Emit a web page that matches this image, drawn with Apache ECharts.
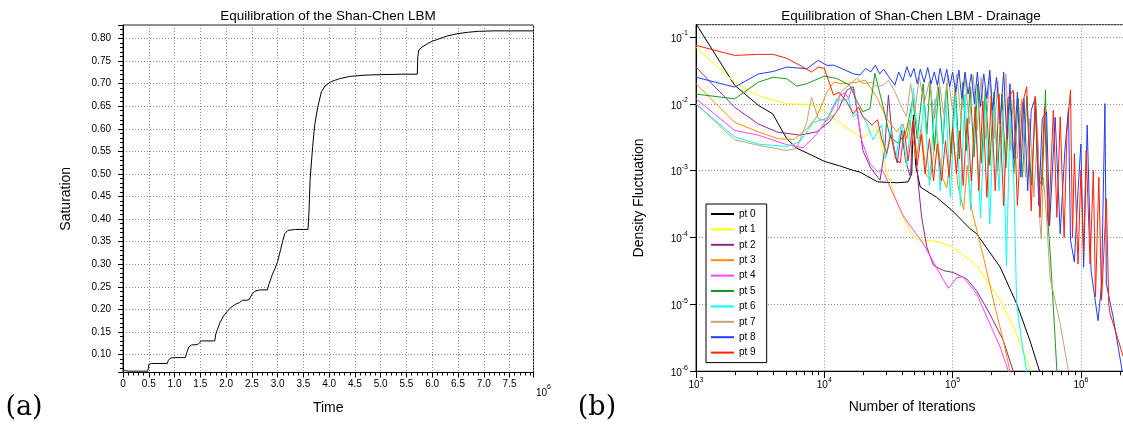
<!DOCTYPE html>
<html>
<head>
<meta charset="utf-8">
<script src="https://cdn.jsdelivr.net/npm/echarts@6/dist/echarts.min.js"></script>
<style>
html,body{margin:0;padding:0;background:#fff;}
#chart{width:1123px;height:428px;}
</style>
</head>
<body>
<div id="chart"></div>
<script>
// ---- (a) saturation against time (time in units of 10^6) ----
const saturationCurve = [
  [0,0.067],[0.05,0.064],[0.1,0.063],[0.3,0.063],[0.48,0.063],[0.49,0.068],[0.5,0.078],[0.55,0.080],
  [0.86,0.080],[0.88,0.087],[0.92,0.092],[1.0,0.093],[1.21,0.093],[1.24,0.105],[1.28,0.117],[1.33,0.121],
  [1.45,0.122],[1.48,0.124],[1.52,0.130],[1.78,0.130],[1.80,0.145],[1.83,0.155],[1.88,0.170],[1.95,0.185],
  [2.02,0.195],[2.10,0.205],[2.18,0.211],[2.26,0.215],[2.32,0.220],[2.40,0.220],[2.45,0.222],[2.50,0.233],
  [2.56,0.240],[2.65,0.243],[2.80,0.243],[2.83,0.255],[2.87,0.268],[2.90,0.278],[2.95,0.290],[3.00,0.306],
  [3.06,0.333],[3.10,0.352],[3.14,0.368],[3.20,0.375],[3.35,0.377],[3.59,0.377],[3.61,0.420],[3.63,0.487],
  [3.68,0.561],[3.72,0.609],[3.78,0.649],[3.85,0.682],[3.92,0.695],[4.03,0.704],[4.1,0.707],[4.2,0.711],
  [4.4,0.716],[4.7,0.719],[5.0,0.720],[5.4,0.721],[5.71,0.721],[5.72,0.760],[5.74,0.775],[5.80,0.781],
  [5.90,0.788],[6.0,0.794],[6.15,0.800],[6.3,0.806],[6.5,0.811],[6.7,0.814],[6.9,0.816],[7.2,0.817],[7.965,0.817]
];
const timeRange = [0, 7.965];
const saturationRange = [0.06, 0.83];

// ---- (b) density fluctuation against iterations, one array per probe point ----
const pt0 = [[1e3,0.158],[2e3,0.019],[3.06e3,0.0095],[3.96e3,0.0071],[5.1e3,0.003],[6.1e3,0.00217],[8e3,0.0017],
  [1e4,0.00138],[1.32e4,0.00118],[1.68e4,0.00101],[1.9e4,0.00095],[2.6e4,0.00068],[3.7e4,0.00066],[4.5e4,0.00068],
  [4.8e4,0.0009],[4.95e4,0.0068],[5.15e4,0.0012],[5.6e4,0.00057],[7.5e4,0.0004],[1.0e5,0.00025],[1.37e5,0.000135],
  [1.54e5,0.000114],[2.35e5,3.6e-5],[3.16e5,1.02e-5],[4.0e5,2.9e-6],[4.85e5,9e-7]];
const pt1 = [[1e3,0.07],[2e3,0.021],[3e3,0.0134],[5.1e3,0.0100],[7e3,0.0099],[8.7e3,0.0092],[1.0e4,0.008],[1.32e4,0.0052],
  [1.6e4,0.004],[1.95e4,0.0031],[2.27e4,0.0036],[2.55e4,0.0045],[2.7e4,0.0035],[2.97e4,0.00113],[3.35e4,0.0006],
  [3.9e4,0.00025],[4.66e4,0.000128],[5.25e4,9.3e-5],[7.1e4,8.9e-5],[9.5e4,7.6e-5],[1.37e5,4.6e-5],[1.54e5,3.8e-5],
  [2.35e5,1.15e-5],[3.16e5,3.6e-6],[4.06e5,1e-6],[4.3e5,7e-7]];
const pt2 = [[1e3,0.0355],[2e3,0.0089],[3.06e3,0.005],[4.27e3,0.0038],[6.45e3,0.0034],[8.7e3,0.0038],[1.1e4,0.0054],
  [1.3e4,0.0085],[1.5e4,0.016],[1.68e4,0.018],[1.8e4,0.008],[2.0e4,0.002],[2.3e4,0.0011],[2.72e4,0.00072],[2.95e4,0.002],
  [3.16e4,0.0135],[3.4e4,0.003],[3.7e4,0.0013],[4.0e4,0.004],[4.3e4,0.0014],[4.7e4,0.0008],[4.9e4,0.0055],[5.15e4,0.002],
  [5.4e4,0.00064],[5.74e4,0.0002],[6.3e4,7.2e-5],[7.1e4,3.8e-5],[8.5e4,3.2e-5],[1.01e5,3.0e-5],[1.29e5,2.4e-5],
  [1.54e5,1.6e-5],[1.95e5,7.2e-6],[2.48e5,2.9e-6],[2.97e5,1e-6],[3.1e5,7e-7]];
const pt3 = [[1e3,0.02],[2e3,0.0053],[3.06e3,0.0038],[4.4e3,0.003],[5.8e3,0.00295],[7.3e3,0.0042],[8.7e3,0.0063],
  [1.05e4,0.015],[1.18e4,0.021],[1.4e4,0.02],[1.78e4,0.021],[2.1e4,0.0226],[2.6e4,0.012],[3.07e4,0.006],[3.67e4,0.0038],
  [4.1e4,0.005],[4.4e4,0.003],[4.66e4,0.0057],[5.2e4,0.0015],[5.7e4,0.0045],[6.2e4,0.0009],[6.7e4,0.00072],[7.5e4,0.004],
  [8.3e4,0.0008],[9e4,0.00055],[1.01e5,0.0032],[1.1e5,0.0006],[1.22e5,0.00026],[1.3e5,0.0012],[1.41e5,0.00026],
  [1.74e5,5.1e-5],[2.08e5,1.15e-5],[2.48e5,2.9e-6],[2.8e5,1e-6],[2.95e5,7e-7]];
const pt4 = [[1e3,0.0119],[2e3,0.004],[3.06e3,0.0034],[5.1e3,0.00245],[6.85e3,0.0022],[8.7e3,0.0035],[1.1e4,0.0067],
  [1.32e4,0.0134],[1.45e4,0.0145],[1.55e4,0.012],[1.62e4,0.016],[1.7e4,0.017],[1.8e4,0.008],[1.95e4,0.0029],
  [2.27e4,0.00128],[2.63e4,0.00095],[2.8e4,0.00105],[2.95e4,0.0009],[3.25e4,0.00057],[4.13e4,0.00021],[5.9e4,8.1e-5],
  [8.5e4,2.3e-5],[9.3e4,1.74e-5],[1.08e5,2.5e-5],[1.2e5,2.6e-5],[1.54e5,1.45e-5],[1.95e5,5.1e-6],[2.35e5,2.3e-6],
  [2.72e5,1e-6],[2.85e5,7e-7]];
const pt5 = [[1e3,0.014],[2e3,0.0119],[3.06e3,0.0211],[4e3,0.025],[5.1e3,0.0237],[6.1e3,0.0184],[7.3e3,0.02],[1e4,0.026],
  [1.25e4,0.024],[1.58e4,0.019],[1.78e4,0.0113],[2e4,0.0076],[2.27e4,0.0085],[2.48e4,0.0285],[2.88e4,0.009],[3.25e4,0.0032],
  [3.79e4,0.00255],[4.37e4,0.004],[4.9e4,0.012],[5.3e4,0.003],[5.9e4,0.02],[6.3e4,0.0035],[6.7e4,0.0226],[7.2e4,0.002],
  [7.8e4,0.018],[8.4e4,0.0025],[9e4,0.02],[9.7e4,0.0018],[1.05e5,0.019],[1.13e5,0.0015],[1.2e5,0.021],[1.28e5,0.002],
  [1.37e5,0.018],[1.47e5,0.0016],[1.57e5,0.02],[1.68e5,0.0013],[1.8e5,0.017],[1.95e5,0.0012],[2.1e5,0.015],[2.25e5,0.001],
  [2.42e5,0.014],[2.6e5,0.0011],[2.8e5,0.013],[3e5,0.0009],[3.25e5,0.012],[3.5e5,0.0008],[3.8e5,0.013],[4.1e5,0.0006],
  [4.45e5,0.011],[4.75e5,0.0007],[5.0e5,0.0006],[5.3e5,0.016],[5.5e5,0.0002],[5.75e5,6.4e-5],[6.1e5,9.1e-6],[6.5e5,1e-6],[6.6e5,7e-7]];
const pt6 = [[1e3,0.01],[2e3,0.0032],[3.06e3,0.0025],[5.1e3,0.0023],[6.45e3,0.0027],[8.2e3,0.0053],[1.05e4,0.006],
  [1.25e4,0.0119],[1.4e4,0.011],[1.55e4,0.012],[1.68e4,0.0064],[1.9e4,0.0076],[2.1e4,0.0055],[2.4e4,0.0029],[2.63e4,0.004],
  [2.8e4,0.0048],[3.0e4,0.0015],[3.3e4,0.004],[3.6e4,0.0015],[4.0e4,0.005],[4.4e4,0.0012],[4.95e4,0.017],[5.5e4,0.002],
  [6e4,0.011],[6.6e4,0.0006],[7.3e4,0.012],[8e4,0.0005],[8.8e4,0.015],[9.6e4,0.0004],[1.05e5,0.013],[1.15e5,0.0003],
  [1.25e5,0.014],[1.38e5,0.00026],[1.5e5,0.012],[1.65e5,0.0002],[1.8e5,0.011],[1.95e5,0.00016],[2.1e5,0.01],[2.3e5,0.0005],
  [2.45e5,0.008],[2.63e5,3.8e-5],[2.8e5,0.006],[3e5,0.0007],[3.16e5,1.02e-5],[3.45e5,2.9e-6],[3.78e5,1e-6],[3.9e5,7e-7]];
const pt7 = [[1e3,0.01],[2e3,0.0029],[3.06e3,0.0024],[5.1e3,0.002],[6.1e3,0.00217],[7.3e3,0.0053],[7.95e3,0.0126],
  [8.97e3,0.006],[1.05e4,0.0056],[1.25e4,0.0075],[1.32e4,0.0143],[1.5e4,0.018],[1.78e4,0.024],[2e4,0.02],[2.3e4,0.021],
  [2.6e4,0.018],[2.88e4,0.019],[3.16e4,0.0226],[3.5e4,0.016],[4e4,0.009],[4.37e4,0.0064],[4.7e4,0.02],[5.1e4,0.008],
  [5.5e4,0.025],[6e4,0.01],[6.6e4,0.022],[7.2e4,0.006],[7.8e4,0.025],[8.5e4,0.007],[9.2e4,0.027],[1e5,0.008],[1.08e5,0.028],
  [1.16e5,0.006],[1.25e5,0.025],[1.35e5,0.005],[1.45e5,0.027],[1.55e5,0.004],[1.67e5,0.025],[1.8e5,0.003],[1.95e5,0.026],
  [2.1e5,0.003],[2.25e5,0.022],[2.4e5,0.0025],[2.6e5,0.028],[2.8e5,0.002],[3e5,0.015],[3.2e5,0.0015],[3.45e5,0.012],
  [3.7e5,0.0008],[4e5,0.006],[4.3e5,0.0004],[4.6e5,0.004],[4.8e5,0.00016],[4.9e5,9.5e-5],[5.1e5,0.0008],[5.4e5,0.0002],
  [5.75e5,2.5e-5],[6.9e5,5.1e-6],[8e5,1e-6],[8.3e5,7e-7]];
const pt8 = [[1e3,0.025],[2e3,0.0178],[3.06e3,0.028],[4e3,0.0305],[5.1e3,0.0355],[7.3e3,0.0335],[8.97e3,0.0447],
  [1.05e4,0.0376],[1.18e4,0.038],[1.4e4,0.033],[1.7e4,0.028],[1.9e4,0.027],[2.1e4,0.034],[2.3e4,0.03],[2.5e4,0.038],
  [2.7e4,0.028],[2.9e4,0.033],[3.2e4,0.025],[3.55e4,0.019],[3.8e4,0.03],[4.1e4,0.022],[4.4e4,0.036],[4.7e4,0.025],
  [5e4,0.034],[5.3e4,0.02],[5.6e4,0.033],[6e4,0.021],[6.4e4,0.035],[6.8e4,0.02],[7.2e4,0.03],[7.6e4,0.019],[8e4,0.034],
  [8.5e4,0.02],[9e4,0.033],[9.5e4,0.018],[1e5,0.03],[1.06e5,0.015],[1.12e5,0.032],[1.18e5,0.012],[1.25e5,0.03],
  [1.32e5,0.014],[1.4e5,0.028],[1.48e5,0.01],[1.56e5,0.03],[1.65e5,0.009],[1.75e5,0.028],[1.85e5,0.012],[1.95e5,0.032],
  [2.05e5,0.008],[2.2e5,0.025],[2.35e5,0.005],[2.5e5,0.03],[2.65e5,0.003],[2.8e5,0.02],[3e5,0.0015],[3.2e5,0.015],
  [3.4e5,0.0008],[3.6e5,0.012],[3.85e5,0.0005],[4.1e5,0.008],[4.4e5,0.012],[4.7e5,0.0003],[5e5,0.006],[5.4e5,0.0076],
  [5.7e5,0.00015],[6.3e5,0.0063],[6.9e5,0.000114],[7.5e5,0.002],[8e5,0.0085],[8.3e5,9.1e-5],[8.9e5,4.3e-5],[9.5e5,0.0005],
  [1.0e6,0.0025],[1.05e6,3.6e-5],[1.12e6,0.0048],[1.2e6,3.2e-5],[1.36e6,5.7e-6],[1.45e6,2e-5],[1.54e6,0.0101],
  [1.58e6,2e-5],[1.78e6,6.6e-6],[2.1e6,1e-6],[2.3e6,6e-7]];
const pt9 = [[1e3,0.075],[2e3,0.053],[3.06e3,0.055],[4e3,0.055],[5.1e3,0.048],[6.45e3,0.0376],[7.95e3,0.03],[8.97e3,0.0355],
  [1e4,0.034],[1.1e4,0.02],[1.18e4,0.0135],[1.3e4,0.015],[1.5e4,0.0107],[1.68e4,0.0071],[1.85e4,0.009],[2e4,0.0064],
  [2.2e4,0.0055],[2.36e4,0.0048],[2.6e4,0.0058],[2.8e4,0.003],[3.07e4,0.0018],[3.3e4,0.0035],[3.6e4,0.0015],[3.9e4,0.0013],
  [4.2e4,0.004],[4.5e4,0.0014],[4.95e4,0.0057],[5.3e4,0.0012],[5.7e4,0.0035],[6.1e4,0.0009],[6.6e4,0.003],[7.1e4,0.0007],
  [7.6e4,0.0025],[8.2e4,0.0007],[8.8e4,0.0028],[9.4e4,0.0008],[1e5,0.0045],[1.07e5,0.0009],[1.14e5,0.004],[1.21e5,0.0006],
  [1.3e5,0.006],[1.4e5,0.0007],[1.5e5,0.009],[1.6e5,0.0005],[1.72e5,0.011],[1.85e5,0.0004],[2e5,0.013],[2.15e5,0.0005],
  [2.3e5,0.014],[2.5e5,0.0003],[2.7e5,0.012],[2.97e5,0.016],[3.2e5,0.0003],[3.5e5,0.01],[3.78e5,0.018],[4.1e5,0.00025],
  [4.4e5,0.013],[4.8e5,0.0002],[5.2e5,0.009],[5.6e5,0.00015],[6.1e5,0.008],[6.5e5,0.0002],[6.9e5,0.0064],[7.4e5,0.0001],
  [7.8e5,0.004],[8.3e5,0.016],[8.6e5,0.0001],[8.9e5,0.0018],[9.5e5,4e-5],[1.0e6,0.001],[1.05e6,6e-5],[1.1e6,0.002],
  [1.18e6,4e-5],[1.25e6,0.001],[1.3e6,1.3e-5],[1.38e6,0.0008],[1.45e6,1.15e-5],[1.58e6,0.00038],[1.65e6,1e-5],
  [1.69e6,7.2e-6],[1.9e6,3.5e-6],[2.15e6,1.6e-6],[2.5e6,6e-7]];

const probeNames = ['pt 0','pt 1','pt 2','pt 3','pt 4','pt 5','pt 6','pt 7','pt 8','pt 9'];
const probeData = [pt0, pt1, pt2, pt3, pt4, pt5, pt6, pt7, pt8, pt9];
const probeColors = ['#000000','#ffff00','#8a2a8a','#ff8c00','#ff44ff','#1a9a1a','#00ffff','#c4a077','#1f3cff','#ff2200'];
const iterationRange = [1e3, 3e6];
const fluctuationRange = [1e-6, 0.1528];
// minor ticks of the logarithmic iteration axis (2..9 in each decade)
const iterationMinorTicks = [];
[1e3, 1e4, 1e5, 1e6].forEach(function (d) {
  for (let k = 2; k <= 9; k++) if (d * k <= iterationRange[1]) iterationMinorTicks.push(d * k);
});

const SANS = '"Liberation Sans", Arial, Helvetica, sans-serif';
const SERIF = '"DejaVu Serif", "Liberation Serif", serif';
const gridLine = { show: true, lineStyle: { color: '#8a8a8a', width: 1, type: [1, 2] } };
const axisLineStyle = { show: true, onZero: false, lineStyle: { color: '#000', width: 1 } };
const powRich = {
  b: { fontSize: 10, fontFamily: SANS, color: '#000', lineHeight: 14, verticalAlign: 'bottom' },
  e: { fontSize: 7, fontFamily: SANS, color: '#000', lineHeight: 8, verticalAlign: 'top' }
};
function powLabel(v) {
  return '{b|10}{e|' + Math.round(Math.log10(v)) + '}';
}

const chart = echarts.init(document.getElementById('chart'), null, { renderer: 'canvas' });

const series = [{
  type: 'line', xAxisIndex: 0, yAxisIndex: 0, data: saturationCurve,
  showSymbol: false, lineStyle: { color: '#000', width: 1 }, itemStyle: { color: '#000' }, z: 3
}];
probeData.forEach(function (d, i) {
  series.push({
    name: probeNames[i], type: 'line', xAxisIndex: 1, yAxisIndex: 1, data: d,
    showSymbol: false, lineStyle: { color: probeColors[i], width: 1 }, itemStyle: { color: probeColors[i] }, z: 3
  });
});
series.push({
  type: 'custom', xAxisIndex: 1, yAxisIndex: 1, clip: false, silent: true, z: 5,
  data: iterationMinorTicks.map(function (v) { return [v, fluctuationRange[0]]; }),
  renderItem: function (params, api) {
    const p = api.coord([api.value(0), api.value(1)]);
    const x = Math.round(p[0]) + 0.5;
    return { type: 'line', shape: { x1: x, y1: p[1], x2: x, y2: p[1] + 4 }, style: { stroke: '#000', lineWidth: 1 } };
  }
});

chart.setOption({
  animation: false,
  backgroundColor: '#fff',
  title: [
    { text: 'Equilibration of the Shan-Chen LBM', left: 328, top: 9, textAlign: 'center', padding: 0,
      textStyle: { fontFamily: SANS, fontSize: 13.5, fontWeight: 'normal', color: '#000' } },
    { text: 'Equilibration of Shan-Chen LBM - Drainage', left: 911, top: 9, textAlign: 'center', padding: 0,
      textStyle: { fontFamily: SANS, fontSize: 13.5, fontWeight: 'normal', color: '#000' } }
  ],
  grid: [
    { left: 123, right: 589.5, top: 25, bottom: 55.5, show: true, borderColor: '#222', borderWidth: 1,
      containLabel: false, outerBoundsMode: 'none' },
    { left: 696, width: 446.1, top: 24.7, bottom: 56.8, show: true, borderColor: '#222', borderWidth: 1,
      containLabel: false, outerBoundsMode: 'none' }
  ],
  legend: {
    orient: 'vertical', left: 706, top: 204, data: probeNames, icon: 'rect',
    itemWidth: 23, itemHeight: 2, itemGap: 3.4, selectedMode: false,
    padding: [4, 11, 4, 5], borderColor: '#000', borderWidth: 1, backgroundColor: '#fff',
    textStyle: { fontFamily: SANS, fontSize: 10, color: '#000', lineHeight: 12 }
  },
  xAxis: [
    { type: 'value', gridIndex: 0, min: timeRange[0], max: timeRange[1], interval: 0.5,
      name: 'Time', nameLocation: 'middle', nameGap: 29,
      nameTextStyle: { fontFamily: SANS, fontSize: 14, color: '#000' },
      axisLine: axisLineStyle,
      axisTick: { show: true, inside: false, length: 5, lineStyle: { color: '#000' } },
      minorTick: { show: true, splitNumber: 5, length: 3, lineStyle: { color: '#000' } },
      axisLabel: { fontFamily: SANS, fontSize: 10, color: '#000', margin: 7, showMaxLabel: false,
        formatter: function (v) { return v === 0 ? '0' : v.toFixed(1); } },
      splitLine: gridLine },
    { type: 'log', gridIndex: 1, min: iterationRange[0], max: iterationRange[1], logBase: 10,
      name: 'Number of Iterations', nameLocation: 'middle', nameGap: 29,
      nameTextStyle: { fontFamily: SANS, fontSize: 14, color: '#000', padding: [0, 14, 0, 0] },
      axisLine: axisLineStyle,
      axisTick: { show: true, inside: false, length: 7, lineStyle: { color: '#000' } },
      axisLabel: { margin: 5, showMaxLabel: false, formatter: powLabel, rich: powRich },
      splitLine: gridLine }
  ],
  yAxis: [
    { type: 'value', gridIndex: 0, min: saturationRange[0], max: saturationRange[1],
      minInterval: 0.05, maxInterval: 0.05, splitNumber: 15,
      name: 'Saturation', nameLocation: 'middle', nameGap: 50,
      nameTextStyle: { fontFamily: SANS, fontSize: 14, color: '#000' },
      axisLine: axisLineStyle,
      axisTick: { show: true, inside: false, length: 5, lineStyle: { color: '#000' } },
      minorTick: { show: true, splitNumber: 5, length: 3, lineStyle: { color: '#000' } },
      axisLabel: { fontFamily: SANS, fontSize: 10, color: '#000', margin: 12, showMinLabel: false, showMaxLabel: false,
        formatter: function (v) { return v.toFixed(2); } },
      splitLine: gridLine },
    { type: 'log', gridIndex: 1, min: fluctuationRange[0], max: fluctuationRange[1], logBase: 10,
      name: 'Density Fluctuation', nameLocation: 'middle', nameGap: 50,
      nameTextStyle: { fontFamily: SANS, fontSize: 14, color: '#000' },
      axisLine: axisLineStyle,
      axisTick: { show: true, inside: false, length: 6, lineStyle: { color: '#000' } },
      axisLabel: { margin: 8, showMaxLabel: false, formatter: powLabel, rich: powRich },
      splitLine: gridLine }
  ],
  graphic: [
    { type: 'text', left: 536, top: 384, silent: true,
      style: { text: '{b|10}{e|6}', rich: powRich } },
    { type: 'text', x: 24, y: 408, silent: true,
      style: { text: '(a)', font: '27px ' + SERIF, fill: '#000', align: 'center', verticalAlign: 'middle' } },
    { type: 'text', x: 597, y: 408, silent: true,
      style: { text: '(b)', font: '27px ' + SERIF, fill: '#000', align: 'center', verticalAlign: 'middle' } }
  ],
  series: series
});
</script>
</body>
</html>
